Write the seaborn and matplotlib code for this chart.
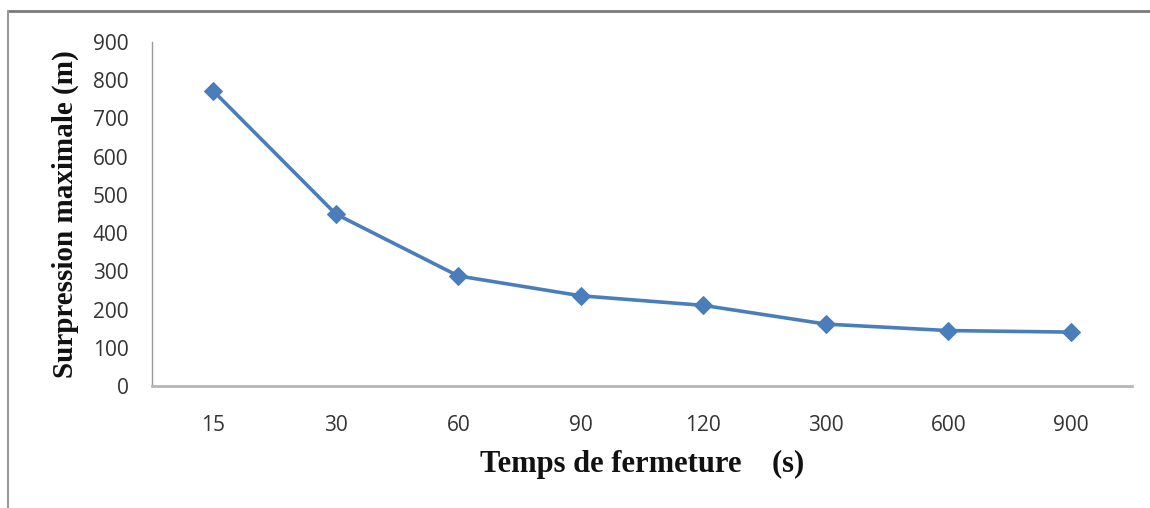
import matplotlib
matplotlib.use("Agg")
import matplotlib.pyplot as plt
import seaborn as sns
import pandas as pd
from matplotlib.lines import Line2D
from matplotlib.ticker import FixedLocator

categories = ["15", "30", "60", "90", "120", "300", "600", "900"]
surpression = [772, 450, 288, 236, 211, 162, 145, 141]
y_ticks = [0, 100, 200, 300, 400, 500, 600, 700, 800, 900]

x_label = "Temps de fermeture    (s)"
y_label = "Surpression maximale (m)"

df = pd.DataFrame({"temps": categories, "surpression": surpression})

sns.set_style("white")
plt.rcParams["font.family"] = ["Open Sans", "DejaVu Sans"]

fig = plt.figure(figsize=(11.5, 5.08), dpi=100)
ax = fig.add_axes([152 / 1150, 122 / 508, 980 / 1150, 344 / 508])

sns.lineplot(data=df, x="temps", y="surpression", ax=ax, color="#4a7ebb",
             linewidth=2.6, marker="D", markersize=9, markeredgecolor="#4a7ebb",
             sort=False)

ax.set_xlim(-0.5, len(categories) - 0.5)
ax.set_ylim(0, 900)
ax.set_yticks(y_ticks)
ax.set_yticklabels([str(v) for v in y_ticks], fontsize=15, color="#333333")
ax.set_xticks(range(len(categories)))
ax.set_xticklabels(categories, fontsize=15, color="#333333")
ax.xaxis.set_minor_locator(FixedLocator([i - 0.5 for i in range(len(categories) + 1)]))
ax.tick_params(axis="x", which="major", length=0, pad=21)
ax.tick_params(axis="x", which="minor", length=6, color="#8c8c8c", width=1, direction="out")
ax.tick_params(axis="y", which="major", length=8, color="#8c8c8c", width=1, direction="out", pad=9)

for s in ["top", "right"]:
    ax.spines[s].set_visible(False)
ax.spines["left"].set_color("#9a9a9a")
ax.spines["left"].set_linewidth(1.0)
ax.spines["bottom"].set_color("#b5b5b5")
ax.spines["bottom"].set_linewidth(2.0)

ax.set_xlabel(x_label, fontsize=22, fontweight="bold", family="Liberation Serif",
              color="#111111", labelpad=10)
ax.set_ylabel(y_label, fontsize=21, fontweight="bold", family="Liberation Serif",
              color="#111111", labelpad=10)
ax.grid(False)

# outer frame (top and left edges visible)
fig.add_artist(Line2D([8 / 1150, 1], [1 - 11 / 508, 1 - 11 / 508], transform=fig.transFigure,
                      color="#7a7a7a", linewidth=2.0))
fig.add_artist(Line2D([8 / 1150, 8 / 1150], [0, 1 - 11 / 508], transform=fig.transFigure,
                      color="#9a9a9a", linewidth=1.5))

fig.savefig("out.png", dpi=100)
